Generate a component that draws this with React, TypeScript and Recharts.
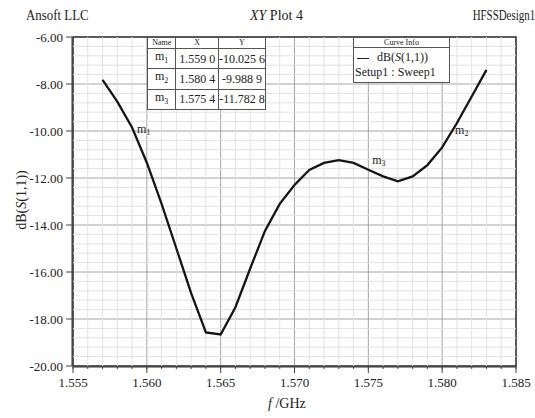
import {
  CartesianGrid,
  Line,
  LineChart,
  ReferenceArea,
  ReferenceDot,
  ReferenceLine,
  XAxis,
  YAxis,
} from "recharts";

const freqGHz = [
  1.557, 1.558, 1.559, 1.56, 1.561, 1.562, 1.563, 1.564, 1.565, 1.566, 1.567, 1.568, 1.569, 1.57,
  1.571, 1.572, 1.573, 1.574, 1.575, 1.576, 1.577, 1.578, 1.579, 1.58, 1.581, 1.582, 1.583,
];
const s11dB = [
  -7.82, -8.75, -9.85, -11.35, -13.1, -15.0, -16.9, -18.57, -18.66, -17.5, -15.85, -14.25, -13.1,
  -12.3, -11.66, -11.36, -11.24, -11.36, -11.65, -11.93, -12.14, -11.93, -11.45, -10.7, -9.66,
  -8.53, -7.4,
];

const xMajorTicks = [1.555, 1.56, 1.565, 1.57, 1.575, 1.58, 1.585];
const xMinorTicks = [
  1.555, 1.556, 1.557, 1.558, 1.559, 1.56, 1.561, 1.562, 1.563, 1.564, 1.565, 1.566, 1.567, 1.568,
  1.569, 1.57, 1.571, 1.572, 1.573, 1.574, 1.575, 1.576, 1.577, 1.578, 1.579, 1.58, 1.581, 1.582,
  1.583, 1.584, 1.585,
];
const yMajorTicks = [-20, -18, -16, -14, -12, -10, -8, -6];
const yMinorTicks = [
  -20, -19.6, -19.2, -18.8, -18.4, -18, -17.6, -17.2, -16.8, -16.4, -16, -15.6, -15.2, -14.8, -14.4,
  -14, -13.6, -13.2, -12.8, -12.4, -12, -11.6, -11.2, -10.8, -10.4, -10, -9.6, -9.2, -8.8, -8.4, -8,
  -7.6, -7.2, -6.8, -6.4, -6,
];

// marker table (name index, x, y) and where each label sits relative to its marker
const markerIds = ["1", "2", "3"];
const markerX = [1.559, 1.5804, 1.5754];
const markerY = [-10.0256, -9.9889, -11.7828];
const markerLabelShift = [
  [5, 1],
  [7, 3],
  [-2, -9],
];

const chartData = freqGHz.map((f, i) => ({ f, db: s11dB[i] }));
const xFineGrid = xMinorTicks.filter((v) => !xMajorTicks.includes(v));
const yFineGrid = yMinorTicks.filter((v) => !yMajorTicks.includes(v));

const serif = "'Liberation Serif', 'DejaVu Serif', serif";

function spaced(v: number) {
  const s = v.toFixed(4);
  return s.slice(0, -1) + " " + s.slice(-1);
}

function MarkerText({ cx, cy, id, dx, dy }: any) {
  return (
    <text x={cx + dx} y={cy + dy} fontFamily={serif} fontSize={12} fill="#222">
      m<tspan fontSize={8} dy={2}>{id}</tspan>
    </text>
  );
}

const cell: React.CSSProperties = {
  border: "1px solid #555",
  padding: 0,
  textAlign: "center",
  whiteSpace: "nowrap",
};

export default function App() {
  return (
    <div
      style={{
        position: "fixed",
        left: 0,
        top: 0,
        width: 535,
        height: 418,
        background: "#fff",
        fontFamily: serif,
        color: "#222",
        overflow: "hidden",
      }}
    >
      <LineChart
        width={535}
        height={418}
        data={chartData}
        margin={{ top: 37, right: 19, left: 0, bottom: 0 }}
      >
        <XAxis
          xAxisId="b"
          dataKey="f"
          type="number"
          domain={[1.555, 1.585]}
          ticks={xMajorTicks}
          interval={0}
          tickFormatter={(v: number) => v.toFixed(3)}
          tickSize={6}
          tickMargin={5}
          height={51}
          axisLine={{ stroke: "#333" }}
          tickLine={{ stroke: "#444" }}
          tick={{ fill: "#222", fontSize: 13, fontFamily: serif }}
        />
        <XAxis
          xAxisId="a"
          dataKey="f"
          type="number"
          domain={[1.555, 1.585]}
          ticks={xMinorTicks}
          interval={0}
          tickFormatter={() => ""}
          tickSize={3}
          height={1}
          axisLine={false}
          tickLine={{ stroke: "#444" }}
        />
        <YAxis
          yAxisId="b"
          type="number"
          domain={[-20, -6]}
          ticks={yMajorTicks}
          interval={0}
          tickFormatter={(v: number) => v.toFixed(2)}
          tickSize={6}
          tickMargin={3}
          width={72}
          axisLine={{ stroke: "#333" }}
          tickLine={{ stroke: "#444" }}
          tick={{ fill: "#222", fontSize: 13, fontFamily: serif }}
        />
        <YAxis
          yAxisId="a"
          type="number"
          domain={[-20, -6]}
          ticks={yMinorTicks}
          interval={0}
          tickFormatter={() => ""}
          tickSize={3}
          width={1}
          axisLine={false}
          tickLine={{ stroke: "#444" }}
        />
        {xFineGrid.map((v) => (
          <ReferenceLine key={"x" + v} xAxisId="b" yAxisId="b" x={v} stroke="#e2e2e2" />
        ))}
        {yFineGrid.map((v) => (
          <ReferenceLine key={"y" + v} xAxisId="b" yAxisId="b" y={v} stroke="#e2e2e2" />
        ))}
        <CartesianGrid xAxisId="b" yAxisId="b" stroke="#a4a4a4" />
        <ReferenceArea
          xAxisId="b"
          yAxisId="b"
          x1={1.555}
          x2={1.585}
          y1={-20}
          y2={-6}
          fill="none"
          stroke="#333"
          strokeWidth={1.5}
          ifOverflow="visible"
        />
        <Line
          xAxisId="b"
          yAxisId="b"
          type="linear"
          dataKey="db"
          stroke="#151515"
          strokeWidth={2.3}
          dot={false}
          isAnimationActive={false}
        />
        {markerIds.map((id, i) => (
          <ReferenceDot
            key={id}
            xAxisId="b"
            yAxisId="b"
            x={markerX[i]}
            y={markerY[i]}
            r={1}
            shape={(p: any) => (
              <MarkerText
                cx={p.cx}
                cy={p.cy}
                id={id}
                dx={markerLabelShift[i][0]}
                dy={markerLabelShift[i][1]}
              />
            )}
          />
        ))}
      </LineChart>

      <div style={{ position: "absolute", left: 26, top: 8, fontSize: 14, transform: "scaleX(0.92)", transformOrigin: "left" }}>
        Ansoft LLC
      </div>
      <div style={{ position: "absolute", left: 250, top: 8, fontSize: 14 }}>
        <i>XY</i> Plot 4
      </div>
      <div style={{ position: "absolute", right: 0, top: 8, fontSize: 14, transform: "scaleX(0.78)", transformOrigin: "right" }}>
        HFSSDesign1
      </div>
      <div style={{ position: "absolute", left: 268, top: 396, fontSize: 14 }}>
        <i>f</i> /GHz
      </div>
      <div
        style={{
          position: "absolute",
          left: 22,
          top: 200,
          fontSize: 14,
          transform: "translate(-50%, -50%) rotate(-90deg)",
          whiteSpace: "nowrap",
        }}
      >
        dB(<i>S</i>(1,1))
      </div>

      <table
        style={{
          position: "absolute",
          left: 147,
          top: 37,
          width: 119,
          borderCollapse: "collapse",
          background: "#fff",
          border: "1.5px solid #555",
          fontSize: 12,
          lineHeight: "14px",
        }}
      >
        <tbody>
          <tr style={{ height: 11 }}>
            <td style={{ ...cell, width: 28, fontSize: 8, lineHeight: "10px" }}>Name</td>
            <td style={{ ...cell, width: 42, fontSize: 8, lineHeight: "10px" }}>X</td>
            <td style={{ ...cell, fontSize: 8, lineHeight: "10px" }}>Y</td>
          </tr>
          {markerIds.map((id, i) => (
            <tr key={id} style={{ height: 20 }}>
              <td style={cell}>
                m<sub style={{ fontSize: 8 }}>{id}</sub>
              </td>
              <td style={cell}>{spaced(markerX[i])}</td>
              <td style={cell}>{spaced(markerY[i])}</td>
            </tr>
          ))}
        </tbody>
      </table>

      <div
        style={{
          position: "absolute",
          left: 353,
          top: 37,
          width: 95,
          height: 44,
          border: "1.5px solid #555",
          background: "#fff",
          fontSize: 12,
        }}
      >
        <div style={{ fontSize: 8, lineHeight: "9px", textAlign: "center", borderBottom: "1px solid #555" }}>
          Curve Info
        </div>
        <div style={{ lineHeight: "15px", marginTop: 2, whiteSpace: "nowrap" }}>
          <span style={{ display: "inline-block", width: 12, borderTop: "1.5px solid #222", verticalAlign: "middle", margin: "0 8px 0 3px" }} />
          dB(<i>S</i>(1,1))
        </div>
        <div style={{ lineHeight: "14px", paddingLeft: 1, whiteSpace: "nowrap" }}>Setup1 : Sweep1</div>
      </div>
    </div>
  );
}
